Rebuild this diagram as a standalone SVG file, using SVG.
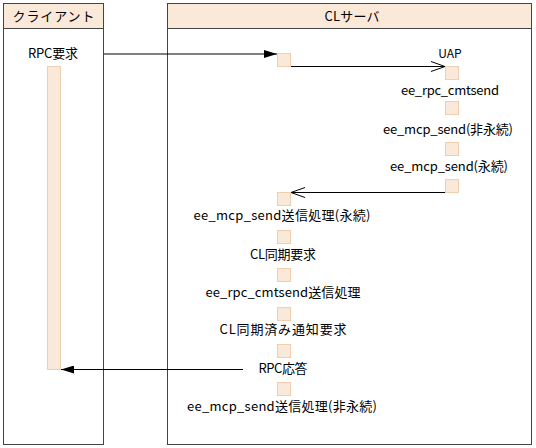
<svg xmlns="http://www.w3.org/2000/svg" width="536" height="448" viewBox="0 0 536 448">
<defs>
<style>
.box{fill:#fff;stroke:#444;stroke-width:1}
.hdr{fill:#fae8d8;stroke:#444;stroke-width:1}
.act{fill:#fae8d8;stroke:#efcfb0;stroke-width:1}
.t{font-family:"Noto Sans CJK JP","Noto Sans",sans-serif;font-size:13px;fill:#000;text-anchor:middle}
.ln{stroke:#000;stroke-width:1;fill:none}
</style>
<marker id="fill" viewBox="0 0 13 8" refX="13" refY="4" markerWidth="13" markerHeight="8" markerUnits="userSpaceOnUse" orient="auto">
<path d="M0,0 L13,4 L0,8 Z" fill="#000"/>
</marker>
<marker id="open" viewBox="0 0 15 11" refX="14" refY="5.5" markerWidth="15" markerHeight="11" markerUnits="userSpaceOnUse" orient="auto">
<path d="M0,0.5 L14,5.5 L0,10.5" fill="none" stroke="#000" stroke-width="1"/>
</marker>
</defs>
<rect width="536" height="448" fill="#fff"/>
<g id="client">
<rect class="box" x="3.5" y="3.5" width="100" height="441"/>
<rect class="hdr" x="3.5" y="3.5" width="100" height="25"/>
<text class="t" x="53.5" y="21" textLength="82" lengthAdjust="spacing">クライアント</text>
<text class="t" x="53" y="58" textLength="50" lengthAdjust="spacing">RPC要求</text>
<rect class="act" x="47.5" y="66.5" width="13" height="303"/>
</g>
<g id="server">
<rect class="box" x="167.5" y="3.5" width="364" height="441"/>
<rect class="hdr" x="167.5" y="3.5" width="364" height="25"/>
<text class="t" x="352" y="21" textLength="55" lengthAdjust="spacing">CLサーバ</text>
<rect class="act" x="277.5" y="53.5" width="13" height="13"/>
<text class="t" x="450" y="58" style="font-size:12px">UAP</text>
<rect class="act" x="445.5" y="66.5" width="13" height="13"/>
<text class="t" x="450" y="95" textLength="98" lengthAdjust="spacing">ee_rpc_cmtsend</text>
<rect class="act" x="445.5" y="101.5" width="13" height="13"/>
<text class="t" x="448" y="134" textLength="130" lengthAdjust="spacing">ee_mcp_send(非永続)</text>
<rect class="act" x="445.5" y="142.5" width="13" height="13"/>
<text class="t" x="449" y="171" textLength="118" lengthAdjust="spacing">ee_mcp_send(永続)</text>
<rect class="act" x="445.5" y="179.5" width="13" height="13"/>
<rect class="act" x="277.5" y="192.5" width="13" height="13"/>
<text class="t" x="282" y="220" textLength="177" lengthAdjust="spacing">ee_mcp_send送信処理(永続)</text>
<rect class="act" x="277.5" y="230.5" width="13" height="13"/>
<text class="t" x="283" y="259" textLength="66" lengthAdjust="spacing">CL同期要求</text>
<rect class="act" x="277.5" y="268.5" width="13" height="13"/>
<text class="t" x="283" y="297" textLength="155" lengthAdjust="spacing">ee_rpc_cmtsend送信処理</text>
<rect class="act" x="277.5" y="307.5" width="13" height="13"/>
<text class="t" x="283" y="334" textLength="127" lengthAdjust="spacing">CL同期済み通知要求</text>
<rect class="act" x="277.5" y="344.5" width="13" height="13"/>
<text class="t" x="283" y="373" textLength="49" lengthAdjust="spacing">RPC応答</text>
<rect class="act" x="277.5" y="382.5" width="13" height="13"/>
<text class="t" x="282" y="411" textLength="190" lengthAdjust="spacing">ee_mcp_send送信処理(非永続)</text>
</g>
<g id="connectors">
<line class="ln" x1="104" y1="54" x2="277" y2="54" marker-end="url(#fill)"/>
<line class="ln" x1="291" y1="66.5" x2="445" y2="66.5" marker-end="url(#open)"/>
<line class="ln" x1="445" y1="192.5" x2="291" y2="192.5" marker-end="url(#open)"/>
<line class="ln" x1="243" y1="369.5" x2="61" y2="369.5" marker-end="url(#fill)"/>
</g>
</svg>
